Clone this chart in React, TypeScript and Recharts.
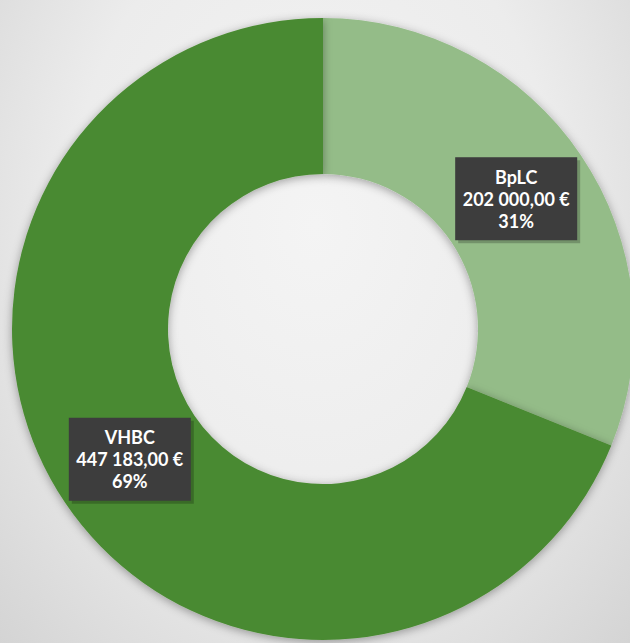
import React from "react";
import { PieChart, Pie, Cell } from "recharts";

const names = ["BpLC", "VHBC"];
const amounts = [202000, 447183];
const colors = ["#94bc88", "#4a8a32"];

const data = names.map((name, i) => ({ name, value: amounts[i] }));

function fmtEuro(n: number) {
  const [int, dec] = n.toFixed(2).split(".");
  return int.replace(/\B(?=(\d{3})+(?!\d))/g, " ") + "," + dec + " €";
}

const RAD = Math.PI / 180;

function BoxLabel(props: any) {
  const { cx, cy, midAngle, innerRadius, outerRadius, name, value, percent } = props;
  const r = (innerRadius + outerRadius) / 2;
  const x = cx + r * Math.cos(-midAngle * RAD);
  const y = cy + r * Math.sin(-midAngle * RAD);
  const w = 122;
  const h = 83;
  const lines = [name, fmtEuro(value), Math.round(percent * 100) + "%"];
  return (
    <g>
      <rect x={x - w / 2 + 3} y={y - h / 2 + 3} width={w} height={h} fill="rgba(0,0,0,0.22)" />
      <rect x={x - w / 2} y={y - h / 2} width={w} height={h} fill="#3d3d3d" />
      {lines.map((t, i) => (
        <text
          key={i}
          x={x}
          y={y - 22 + i * 22}
          textAnchor="middle"
          dominantBaseline="central"
          fill="#ffffff"
          fontFamily="Lato, 'Open Sans', sans-serif"
          fontWeight={700}
          fontSize={18}
        >
          {t}
        </text>
      ))}
    </g>
  );
}

export default function App() {
  return (
    <div
      style={{
        position: "absolute",
        top: 0,
        left: 0,
        width: 630,
        height: 643,
        background: "radial-gradient(ellipse at 50% 35%, #f4f4f4 0%, #ececec 55%, #d4d4d4 100%)",
      }}
    >
      <PieChart width={630} height={643} margin={{ top: 0, right: 0, bottom: 0, left: 0 }}>
        <defs>
          <filter id="ringShadow" x="-10%" y="-10%" width="120%" height="120%">
            <feDropShadow dx="0" dy="2" stdDeviation="5" floodColor="#000" floodOpacity="0.35" />
          </filter>
        </defs>
        <Pie
          data={data}
          dataKey="value"
          nameKey="name"
          cx={323}
          cy={329}
          innerRadius={155}
          outerRadius={311}
          startAngle={90}
          endAngle={-270}
          stroke="none"
          label={<BoxLabel />}
          labelLine={false}
          isAnimationActive={false}
          style={{ filter: "url(#ringShadow)" }}
        >
          {data.map((d, i) => (
            <Cell key={d.name} fill={colors[i]} />
          ))}
        </Pie>
      </PieChart>
    </div>
  );
}
